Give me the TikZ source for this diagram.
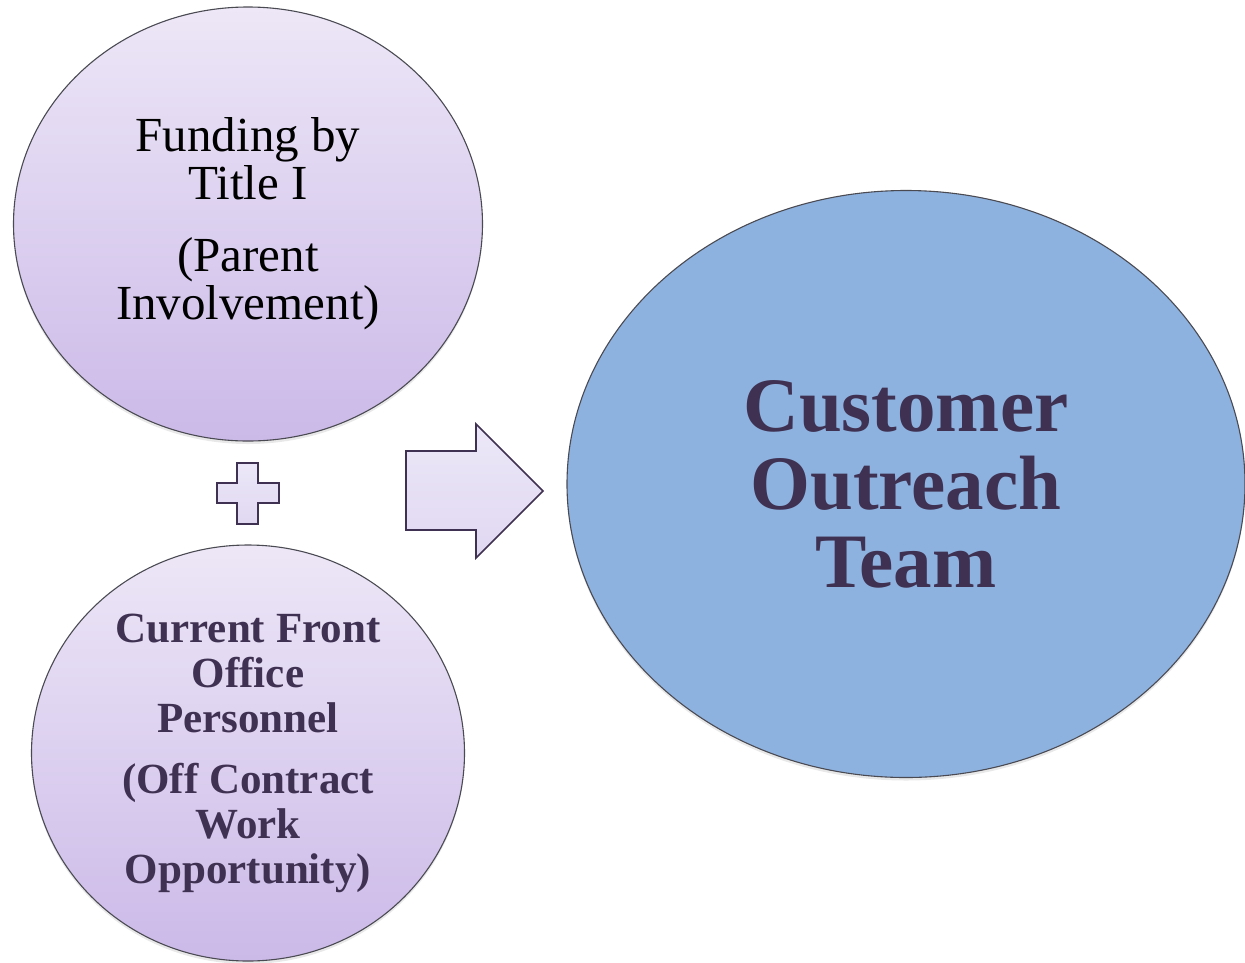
\documentclass[tikz,border=0pt]{standalone}
\usepackage{fontspec}
\setmainfont{Liberation Serif}
\usepackage{xcolor}
\usepackage{tikz}
\usetikzlibrary{shapes.geometric,shadows}
\definecolor{lavtop}{RGB}{237,231,247}
\definecolor{lavbot}{RGB}{203,185,232}
\definecolor{lavpale}{RGB}{236,231,248}
\definecolor{lavmid}{RGB}{224,216,241}
\definecolor{plum}{HTML}{3F3151}
\definecolor{sky}{HTML}{8DB2DF}
\definecolor{rim}{HTML}{4A4A52}
\tikzset{
  blob/.style={ellipse, draw=rim, line width=1.1pt, inner sep=0pt, align=center,
    drop shadow={opacity=0.18, shadow xshift=0pt, shadow yshift=-3pt}},
  lav/.style={blob, top color=lavtop, bottom color=lavbot},
  sign/.style={draw=plum, line width=1.6pt, line join=miter, top color=lavpale, bottom color=lavmid},
}

\begin{document}
\begin{tikzpicture}[x=1pt, y=-1pt]
  \useasboundingbox (0,0) rectangle (1245,962);
  % the two inputs
  \node[lav, minimum width=469pt, minimum height=434pt,
        font=\fontsize{49}{48}\selectfont] (fund) at (248,224)
    {Funding by\\Title I\\[24pt](Parent\\Involvement)};
  \node[lav, minimum width=433pt, minimum height=416pt, text=plum,
        font=\fontsize{43}{45}\selectfont\bfseries] (staff) at (248,753)
    {Current Front\\Office\\Personnel\\[16pt](Off Contract\\Work\\Opportunity)};
  % the result
  \node[blob, fill=sky, minimum width=678pt, minimum height=587pt, text=plum,
        font=\fontsize{77}{78}\selectfont\bfseries] (team) at (906,484)
    {Customer\\Outreach\\Team};
  % plus sign
  \draw[sign] (237,463) -- (258,463) -- (258,483) -- (279,483) -- (279,503)
    -- (258,503) -- (258,524) -- (237,524) -- (237,503) -- (217,503)
    -- (217,483) -- (237,483) -- cycle;
  % block arrow
  \draw[sign] (406,451) -- (476,451) -- (476,424) -- (543,491) -- (476,558)
    -- (476,530) -- (406,530) -- cycle;
\end{tikzpicture}
\end{document}
